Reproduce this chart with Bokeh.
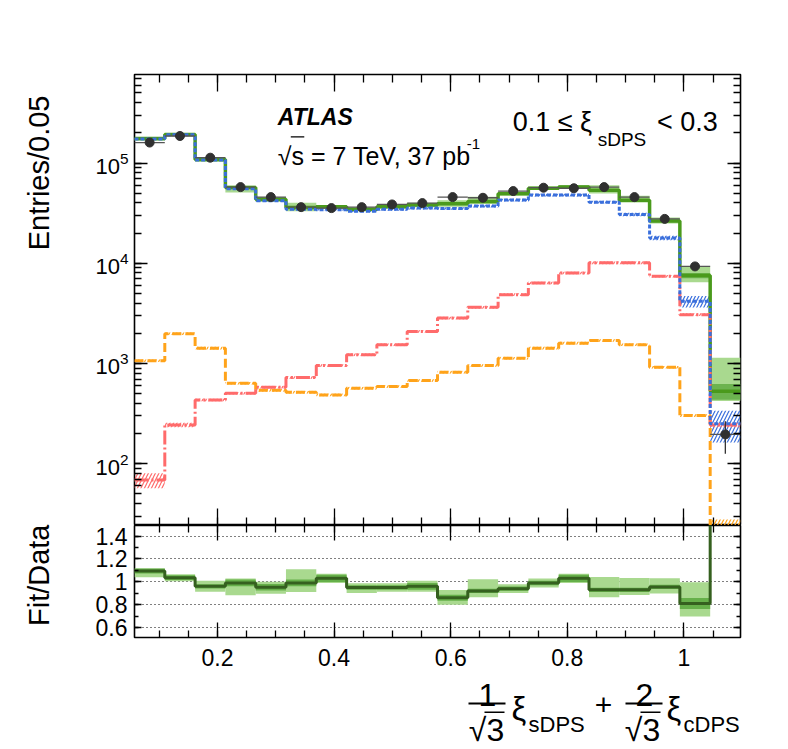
import math
import numpy as np
from bokeh.plotting import figure
from bokeh.layouts import column, row
from bokeh.models import Range1d, FixedTicker, LinearAxis, LogAxis, Label, PolyAnnotation
from bokeh.embed import file_html
from bokeh.resources import INLINE

# ---------------- data ----------------
bin_edges = [0.0577, 0.1097, 0.1617, 0.2136, 0.2656, 0.3175, 0.3695, 0.4215, 0.4734,
             0.5254, 0.5774, 0.6293, 0.6813, 0.7332, 0.7852, 0.8372, 0.8891, 0.9411,
             0.9930, 1.0450, 1.0970]
data = [1.60e5, 1.86e5, 1.13e5, 5.75e4, 4.57e4, 3.63e4, 3.55e4, 3.63e4, 3.86e4, 3.98e4,
        4.57e4, 4.50e4, 5.25e4, 5.67e4, 5.60e4, 5.75e4, 4.57e4, 2.77e4, 9.3e3, 196]
data_err = [400, 430, 340, 240, 210, 190, 190, 190, 200, 200,
            210, 210, 230, 240, 240, 240, 210, 170, 100, 70]
ratio = [1.095, 1.036, 0.96, 0.99, 0.953, 0.99, 1.03, 0.95, 0.95, 0.96,
         0.86, 0.92, 0.94, 0.99, 1.03, 0.93, 0.93, 0.955, 0.81, 2.7]
band_dark = [0.02, 0.02, 0.02, 0.03, 0.03, 0.03, 0.03, 0.02, 0.02, 0.03,
             0.03, 0.02, 0.02, 0.02, 0.03, 0.02, 0.02, 0.02, 0.06, 0.18]
band_light_lo = [0.05, 0.03, 0.05, 0.11, 0.06, 0.08, 0.04, 0.05, 0.04, 0.05,
                 0.07, 0.06, 0.04, 0.04, 0.04, 0.07, 0.05, 0.06, 0.14, 0.20]
band_light_hi = [0.02, 0.03, 0.05, 0.04, 0.05, 0.12, 0.04, 0.04, 0.04, 0.05,
                 0.08, 0.11, 0.04, 0.04, 0.04, 0.12, 0.11, 0.08, 0.23, 1.15]
blue = [1.74e5, 1.91e5, 1.07e5, 5.55e4, 4.20e4, 3.45e4, 3.42e4, 3.30e4, 3.45e4, 3.55e4,
        3.52e4, 3.72e4, 4.27e4, 4.79e4, 4.79e4, 4.07e4, 3.07e4, 1.79e4, 4.17e3, 250]
blue_err = [0.02, 0.02, 0.02, 0.02, 0.02, 0.02, 0.02, 0.02, 0.03, 0.03,
            0.03, 0.03, 0.03, 0.03, 0.03, 0.03, 0.04, 0.05, 0.13, 0.35]
red = [68.7, 244, 433, 505, 580, 724, 955, 1222, 1538, 2089,
       2838, 3630, 4864, 6355, 8000, 10100, 10100, 7413, 3070, 244]
red_err = [0.17, 0.05, 0.03, 0.03, 0.03, 0.03, 0.03, 0.03, 0.03, 0.03,
           0.03, 0.03, 0.03, 0.03, 0.03, 0.03, 0.03, 0.03, 0.03, 0.05]
orange = [1064, 1982, 1423, 635, 540, 517, 486, 567, 589, 676,
          819, 955, 1130, 1423, 1596, 1698, 1538, 919, 302, 15]
orange_err = [0.03, 0.03, 0.03, 0.03, 0.03, 0.03, 0.03, 0.03, 0.03, 0.03,
              0.03, 0.03, 0.03, 0.03, 0.03, 0.03, 0.03, 0.03, 0.03, 0.85]

x_major = [0.2, 0.4, 0.6, 0.8, 1.0]
x_minor = [0.05, 0.1, 0.15, 0.2, 0.25, 0.3, 0.35, 0.4, 0.45, 0.5, 0.55, 0.6, 0.65,
           0.7, 0.75, 0.8, 0.85, 0.9, 0.95, 1.0, 1.05, 1.1]
x_labels = {0.2: "0.2", 0.4: "0.4", 0.6: "0.6", 0.8: "0.8", 1.0: "1"}
y_major = [1e2, 1e3, 1e4, 1e5]
y_minor = [k * 10.0 ** e for e in [1, 2, 3, 4, 5] for k in range(1, 10)]
r_major = [0.6, 0.8, 1.0, 1.2, 1.4]
r_minor = [0.5, 0.6, 0.7, 0.8, 0.9, 1.0, 1.1, 1.2, 1.3, 1.4, 1.5]
r_labels = {0.6: "0.6", 0.8: "0.8", 1.0: "1", 1.2: "1.2", 1.4: "1.4"}

# ---------------- derived arrays ----------------
edges = np.array(bin_edges)
lo, hi = edges[:-1], edges[1:]
ctr = 0.5 * (lo + hi)
d = np.array(data)
de = np.array(data_err)
rt = np.array(ratio)
fit = d * rt

def stepy(v):
    v = list(v)
    return v + [v[-1]]

FONT = "Liberation Sans"
INK = "black"
W0 = 60          # left strip holding the rotated axis titles
W = 725          # width of the panels column
BL, BR = 134 - W0, (W0 + W) - 740
XMIN, XMAX = 0.05774, 1.0970
YMIN, YMAX = 10 ** 1.3838, 10 ** 5.883
RMIN, RMAX = 0.512, 1.493

# helpers turning page-pixel positions into data positions (text placement only)
def xd(X):
    return XMIN + (X - 133.7) / 583.2

def yu(Y):
    return 10 ** (2 - (Y - 462.0) / 100.0)

xr = Range1d(XMIN, XMAX)

def style_axis(ax, tin, tmin, ticks=None, labels=True, size="23px"):
    ax.major_tick_in = tin
    ax.major_tick_out = 0
    ax.minor_tick_in = tmin
    ax.minor_tick_out = 0
    ax.axis_line_color = None
    ax.major_tick_line_color = INK
    ax.minor_tick_line_color = INK
    ax.major_tick_line_width = 1.3
    ax.minor_tick_line_width = 1.3
    if labels:
        ax.major_label_text_font = FONT
        ax.major_label_text_font_size = size
        ax.major_label_text_color = INK
    else:
        ax.major_label_text_font_size = "1px"
        ax.major_label_text_color = None
        ax.major_label_standoff = 0
        ax.major_label_overrides = {t: "" for t in ticks}

def label(fig, x, y, s, size, align="left", baseline="alphabetic", style="normal", angle=0):
    fig.add_layout(Label(x=x, y=y, text=s, text_font=FONT, text_font_size=size,
                         text_font_style=style, text_align=align, text_baseline=baseline,
                         text_color=INK, angle=angle))

# ---------------- upper panel ----------------
p1 = figure(width=W, height=525, x_range=xr, y_range=Range1d(YMIN, YMAX),
            y_axis_type="log", output_backend="svg", toolbar_location=None,
            min_border_left=BL, min_border_right=BR, min_border_top=74,
            min_border_bottom=0)
p1.outline_line_color = INK
p1.outline_line_width = 1.6
p1.xgrid.visible = False
p1.ygrid.visible = False

p1.xaxis.ticker = FixedTicker(ticks=x_major, minor_ticks=x_minor)
style_axis(p1.xaxis[0], 17, 8, ticks=x_major, labels=False)
p1.yaxis.ticker = FixedTicker(ticks=y_major, minor_ticks=y_minor)
style_axis(p1.yaxis[0], 13, 7, size="22px")
p1.yaxis.major_label_standoff = 6
ax_top = LinearAxis(ticker=FixedTicker(ticks=x_major, minor_ticks=x_minor))
style_axis(ax_top, 17, 8, ticks=x_major, labels=False)
p1.add_layout(ax_top, "above")
ax_right = LogAxis(ticker=FixedTicker(ticks=y_major, minor_ticks=y_minor))
style_axis(ax_right, 13, 7, ticks=y_major, labels=False)
p1.add_layout(ax_right, "right")

# fit bands
p1.quad(left=lo, right=hi, bottom=fit * (1 - np.array(band_light_lo)),
        top=fit * (1 + np.array(band_light_hi)), fill_color="#a9d98f", line_color=None)
p1.quad(left=lo, right=hi, bottom=fit * (1 - np.array(band_dark)),
        top=fit * (1 + np.array(band_dark)), fill_color="#6cb34f", line_color=None)
# hatched component bands
for vals, errs, col in [(blue, blue_err, "#3a6fdc"), (red, red_err, "#ff6b6b"),
                        (orange, orange_err, "#ffa31a")]:
    v = np.array(vals)
    e = np.array(errs)
    p1.quad(left=lo, right=hi, bottom=v * (1 - e), top=v * (1 + e), fill_alpha=0,
            line_color=None, hatch_pattern="/", hatch_color=col, hatch_scale=7,
            hatch_weight=1.2)

p1.step(x=edges, y=stepy(fit), mode="after", line_color="#4a9a1c", line_width=3.5)
p1.step(x=edges, y=stepy(orange), mode="after", line_color="#ffa31a", line_width=3,
        line_dash="9 4")
p1.step(x=edges, y=stepy(red), mode="after", line_color="#ff6b6b", line_width=3,
        line_dash="14 3 2 3")
p1.step(x=edges, y=stepy(blue), mode="after", line_color="#3a6fdc", line_width=3,
        line_dash="4 2")

# data
p1.segment(x0=lo, y0=d, x1=hi, y1=d, line_color="#555555", line_width=1.3)
p1.segment(x0=ctr, y0=d - de, x1=ctr, y1=d + de, line_color="#333333", line_width=1.3)
p1.scatter(x=ctr, y=d, size=9, color="#303030")

label(p1, xd(277), yu(116), "ATLAS", "23px", style="bold italic")
label(p1, xd(277), yu(155), "√s = 7 TeV, 37 pb", "25px")
p1.add_layout(PolyAnnotation(xs=[xd(290), xd(303.5), xd(303.5), xd(290)],
                             ys=[yu(135.2), yu(135.2), yu(136.6), yu(136.6)],
                             fill_color=INK, fill_alpha=1.0, line_color=None))
label(p1, xd(466), yu(143), "-1", "15px")
label(p1, xd(512), yu(121), "0.1 ≤ ξ", "27px")
label(p1, xd(597), yu(139), "sDPS", "19px")
label(p1, xd(717), yu(121), "< 0.3", "27px", align="right")

# ---------------- ratio panel ----------------
P2H = 149
p2 = figure(width=W, height=P2H, x_range=xr, y_range=Range1d(RMIN, RMAX),
            output_backend="svg", toolbar_location=None,
            min_border_left=BL, min_border_right=BR, min_border_top=0,
            min_border_bottom=37)
p2.outline_line_color = INK
p2.outline_line_width = 1.6
p2.xgrid.visible = False
p2.yaxis.ticker = FixedTicker(ticks=r_major, minor_ticks=r_minor)
p2.ygrid.ticker = FixedTicker(ticks=r_major)
p2.ygrid.grid_line_color = INK
p2.ygrid.grid_line_dash = "1 3"
p2.ygrid.grid_line_width = 1.2
p2.xaxis.ticker = FixedTicker(ticks=x_major, minor_ticks=x_minor)
style_axis(p2.xaxis[0], 15, 7)
p2.xaxis.major_label_standoff = 11
p2.xaxis.major_label_overrides = x_labels
style_axis(p2.yaxis[0], 7, 4)
p2.yaxis.major_label_standoff = 7
p2.yaxis.major_label_overrides = r_labels
ax2_top = LinearAxis(ticker=FixedTicker(ticks=x_major, minor_ticks=x_minor))
style_axis(ax2_top, 15, 7, ticks=x_major, labels=False)
p2.add_layout(ax2_top, "above")
ax2_right = LinearAxis(ticker=FixedTicker(ticks=r_major, minor_ticks=r_minor))
style_axis(ax2_right, 7, 4, ticks=r_major, labels=False)
p2.add_layout(ax2_right, "right")

p2.quad(left=lo, right=hi, bottom=rt * (1 - np.array(band_light_lo)),
        top=rt * (1 + np.array(band_light_hi)), fill_color="#a9d98f", line_color=None)
p2.quad(left=lo, right=hi, bottom=rt * (1 - np.array(band_dark)),
        top=rt * (1 + np.array(band_dark)), fill_color="#66b04a", line_color=None)
p2.step(x=edges, y=stepy(rt), mode="after", line_color="#35601f", line_width=3)

# ---------------- x-axis title strip ----------------
T3 = 525 + P2H   # top of the strip in page pixels
H3 = 749 - T3
p3 = figure(width=W, height=H3, x_range=Range1d(134, 740), y_range=Range1d(H3, 0),
            output_backend="svg", toolbar_location=None, x_axis_location=None,
            y_axis_location=None, min_border_left=BL, min_border_right=BR,
            min_border_top=0, min_border_bottom=0)
p3.outline_line_color = None
p3.xgrid.visible = False
p3.ygrid.visible = False

def bar(x0, x1, y0, y1):
    p3.add_layout(PolyAnnotation(xs=[x0, x1, x1, x0],
                                 ys=[y0 - T3, y0 - T3, y1 - T3, y1 - T3],
                                 fill_color=INK, fill_alpha=1.0, line_color=None))

def txt(X, Y, s, size, align="left"):
    label(p3, X, Y - T3, s, size, align=align, baseline="middle")

txt(487, 694, "1", "32px", "center")
bar(468, 505, 702, 704)
txt(486, 729, "√3", "32px", "center")
bar(484, 504, 711, 712.5)
txt(511, 708, "ξ", "33px")
txt(528, 724, "sDPS", "22px")
txt(603, 704, "+", "30px", "center")
txt(644, 694, "2", "32px", "center")
bar(625, 662, 702, 704)
txt(642, 729, "√3", "32px", "center")
bar(640, 660, 711, 712.5)
txt(666, 708, "ξ", "33px")
txt(683, 724, "cDPS", "22px")

# ---------------- left strip with the rotated axis titles ----------------
p0 = figure(width=W0, height=749, x_range=Range1d(0, W0), y_range=Range1d(749, 0),
            output_backend="svg", toolbar_location=None, x_axis_location=None,
            y_axis_location=None, min_border=0, min_border_left=0, min_border_right=0,
            min_border_top=0, min_border_bottom=0)
p0.outline_line_color = None
p0.xgrid.visible = False
p0.ygrid.visible = False
label(p0, 38, 95, "Entries/0.05", "29px", align="right", baseline="middle",
      angle=math.pi / 2)
label(p0, 38, 524, "Fit/Data", "29px", align="right", baseline="middle",
      angle=math.pi / 2)

layout = row(p0, column(p1, p2, p3, spacing=0), spacing=0)
open("out.html", "w").write(file_html(layout, INLINE))
